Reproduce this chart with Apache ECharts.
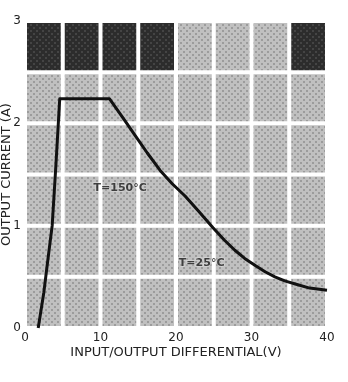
<!DOCTYPE html>
<html>
<head>
<meta charset="utf-8">
<script src="https://cdn.jsdelivr.net/npm/echarts@6/dist/echarts.min.js"></script>
<style>
  html, body { margin: 0; padding: 0; background: #ffffff; }
  #chart { width: 348px; height: 382px; }
</style>
</head>
<body>
<div id="chart"></div>
<script>
// Output current vs. input/output differential for a regulator
const xTicks = [0, 10, 20, 30, 40];
const yTicks = [0, 1, 2, 3];

// Safe operating curve: (differential V, current A)
const curveV = [1.75, 2.5, 3.0, 3.6, 4.1, 4.6, 11.2, 13, 14.6, 16.2, 17.9, 19.5, 21.2, 23, 24.9, 26.4, 27.8, 29.1, 30.5, 31.8, 33.1, 34.4, 35.8, 37.7, 40];
const curveA = [0, 0.35, 0.65, 1.0, 1.6, 2.24, 2.24, 2.05, 1.88, 1.71, 1.54, 1.41, 1.29, 1.14, 0.98, 0.86, 0.76, 0.68, 0.61, 0.55, 0.5, 0.46, 0.43, 0.39, 0.37];

// Temperature annotations
const tempText = ['T=150°C', 'T=25°C'];
const tempV = [12.6, 23.4];
const tempA = [1.37, 0.63];

// Background cell grid: 8 columns of 5 V, 6 rows of 0.5 A
const columnStep = 5;
const rowStep = 0.5;
const columnCount = 8;
const rowCount = 6;
const darkTopColumns = [0, 1, 2, 3, 7];

function halftone(base, dot) {
  const c = document.createElement('canvas');
  c.width = 6; c.height = 6;
  const g = c.getContext('2d');
  g.fillStyle = base; g.fillRect(0, 0, 6, 6);
  g.fillStyle = dot;
  g.fillRect(0, 0, 2, 2);
  g.fillRect(3, 3, 2, 2);
  return { image: c, repeat: 'repeat' };
}
const lightFill = halftone('#c0c0c0', '#9c9c9c');
const darkFill = halftone('#2c2c2c', '#444444');

const cells = [];
for (let c = 0; c < columnCount; c++) {
  for (let r = 0; r < rowCount; r++) {
    const dark = (r === rowCount - 1 && darkTopColumns.indexOf(c) >= 0) ? 1 : 0;
    cells.push([c * columnStep, r * rowStep, dark]);
  }
}

const curve = curveV.map((v, i) => [v, curveA[i]]);
const temps = tempText.map((t, i) => ({ name: t, value: [tempV[i], tempA[i]] }));

const chart = echarts.init(document.getElementById('chart'), null, { renderer: 'canvas' });
const font = 'DejaVu Sans';

chart.setOption({
  animation: false,
  backgroundColor: '#ffffff',
  grid: { left: 25, top: 21, width: 302, height: 307, containLabel: false, outerBoundsMode: 'none' },
  xAxis: {
    type: 'value', min: xTicks[0], max: xTicks[xTicks.length - 1], interval: 10,
    name: 'INPUT/OUTPUT DIFFERENTIAL(V)', nameLocation: 'middle', nameGap: 18, nameMoveOverlap: false,
    nameTextStyle: { color: '#222', fontSize: 13, fontFamily: font },
    axisLine: { show: false }, axisTick: { show: false }, splitLine: { show: false },
    axisLabel: { color: '#222', fontSize: 12, fontFamily: font, margin: 4 }
  },
  yAxis: {
    type: 'value', min: yTicks[0], max: yTicks[yTicks.length - 1], interval: 1,
    name: 'OUTPUT CURRENT (A)', nameLocation: 'middle', nameGap: 12, nameMoveOverlap: false,
    nameTextStyle: { color: '#222', fontSize: 13, fontFamily: font },
    axisLine: { show: false }, axisTick: { show: false }, splitLine: { show: false },
    axisLabel: { color: '#222', fontSize: 12, fontFamily: font, margin: 4 }
  },
  series: [
    {
      type: 'custom',
      data: cells,
      z: 1,
      silent: true,
      renderItem: function (params, api) {
        const x0 = api.value(0), y0 = api.value(1);
        const p1 = api.coord([x0, y0 + rowStep]);
        const p2 = api.coord([x0 + columnStep, y0]);
        const inset = 2;
        return {
          type: 'rect',
          shape: { x: p1[0] + inset, y: p1[1] + inset, width: p2[0] - p1[0] - 2 * inset, height: p2[1] - p1[1] - 2 * inset },
          style: { fill: api.value(2) ? darkFill : lightFill }
        };
      }
    },
    {
      type: 'line',
      data: curve,
      z: 3,
      showSymbol: false,
      smooth: false,
      lineStyle: { color: '#111', width: 3, join: 'round' }
    },
    {
      type: 'scatter',
      data: temps,
      z: 4,
      symbolSize: 0,
      label: {
        show: true, position: 'inside', formatter: '{b}',
        color: '#1a1a1a', fontSize: 11, fontFamily: font, fontWeight: 'bold',
        textBorderColor: 'rgba(255,255,255,0.35)', textBorderWidth: 2
      }
    }
  ]
});
</script>
</body>
</html>
